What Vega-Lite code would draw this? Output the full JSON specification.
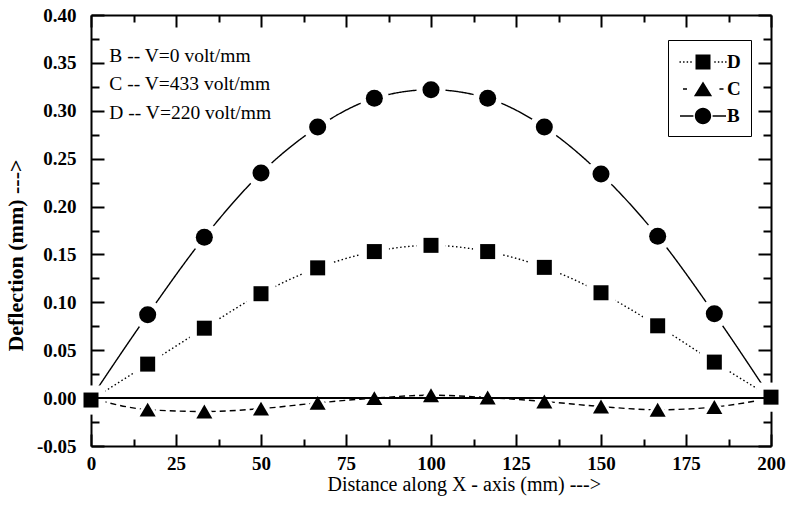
{
  "$schema": "https://vega.github.io/schema/vega-lite/v6.json",
  "width": 680,
  "height": 431,
  "autosize": "none",
  "padding": {"left": 91, "top": 15, "right": 16, "bottom": 63},
  "background": "white",
  "config": {
    "view": {"stroke": null},
    "font": "Liberation Serif",
    "axis": {
      "grid": false,
      "domainColor": "black",
      "domainWidth": 2,
      "tickColor": "black",
      "tickWidth": 2,
      "labelColor": "black",
      "titleColor": "black",
      "labelFont": "Liberation Serif",
      "titleFont": "Liberation Serif",
      "labelFontSize": 19,
      "labelFontWeight": "bold",
      "labelOverlap": false,
      "labelFlush": false
    }
  },
  "datasets": {
    "pts": [
      {"s": "D", "x": 0, "y": -0.002},
      {"s": "D", "x": 16.667, "y": 0.0355},
      {"s": "D", "x": 33.333, "y": 0.073},
      {"s": "D", "x": 50, "y": 0.109},
      {"s": "D", "x": 66.667, "y": 0.136},
      {"s": "D", "x": 83.333, "y": 0.153},
      {"s": "D", "x": 100, "y": 0.1595},
      {"s": "D", "x": 116.667, "y": 0.153},
      {"s": "D", "x": 133.333, "y": 0.1365},
      {"s": "D", "x": 150, "y": 0.11},
      {"s": "D", "x": 166.667, "y": 0.0755},
      {"s": "D", "x": 183.333, "y": 0.0376},
      {"s": "D", "x": 200, "y": 0.001},
      {"s": "C", "x": 0, "y": 0},
      {"s": "C", "x": 16.667, "y": -0.012},
      {"s": "C", "x": 33.333, "y": -0.014},
      {"s": "C", "x": 50, "y": -0.011},
      {"s": "C", "x": 66.667, "y": -0.005},
      {"s": "C", "x": 83.333, "y": 0.0},
      {"s": "C", "x": 100, "y": 0.003},
      {"s": "C", "x": 116.667, "y": 0.0006},
      {"s": "C", "x": 133.333, "y": -0.0035},
      {"s": "C", "x": 150, "y": -0.0088},
      {"s": "C", "x": 166.667, "y": -0.0122},
      {"s": "C", "x": 183.333, "y": -0.0093},
      {"s": "C", "x": 200, "y": 0.0},
      {"s": "B", "x": 0, "y": 0},
      {"s": "B", "x": 16.667, "y": 0.087},
      {"s": "B", "x": 33.333, "y": 0.168},
      {"s": "B", "x": 50, "y": 0.235},
      {"s": "B", "x": 66.667, "y": 0.283},
      {"s": "B", "x": 83.333, "y": 0.313},
      {"s": "B", "x": 100, "y": 0.322},
      {"s": "B", "x": 116.667, "y": 0.313},
      {"s": "B", "x": 133.333, "y": 0.283},
      {"s": "B", "x": 150, "y": 0.234},
      {"s": "B", "x": 166.667, "y": 0.169},
      {"s": "B", "x": 183.333, "y": 0.088},
      {"s": "B", "x": 200, "y": 0}
    ],
    "ann": [
      {"t": "B -- V=0 volt/mm", "x": 5.4, "y": 0.351},
      {"t": "C -- V=433 volt/mm", "x": 5.4, "y": 0.3213},
      {"t": "D -- V=220 volt/mm", "x": 5.4, "y": 0.2917}
    ]
  },
  "layer": [
    {
      "data": {"name": "pts"},
      "mark": {"type": "line", "interpolate": "monotone", "color": "black", "strokeWidth": 1.4},
      "encoding": {
        "x": {
          "field": "x", "type": "quantitative",
          "scale": {"domain": [0, 200], "nice": false, "zero": false},
          "axis": {
            "orient": "bottom",
            "values": [0, 12.5, 25, 37.5, 50, 62.5, 75, 87.5, 100, 112.5, 125, 137.5, 150, 162.5, 175, 187.5, 200],
            "labelExpr": "datum.value % 25 == 0 ? datum.label : ''",
            "tickSize": {"condition": {"test": "datum.value % 25 == 0", "value": -12}, "value": -7},
            "labelPadding": 20,
            "labelBaseline": "top",
            "title": "Distance along X - axis (mm) --->",
            "titleFontSize": 20,
            "titleFontWeight": "normal",
            "titleAlign": "left",
            "titleAnchor": "start",
            "titleBaseline": "alphabetic",
            "titleX": 236,
            "titleY": 44
          }
        },
        "y": {
          "field": "y", "type": "quantitative",
          "scale": {"domain": [-0.05, 0.4], "nice": false, "zero": false},
          "axis": {
            "orient": "left",
            "values": [-0.05, -0.025, 0, 0.025, 0.05, 0.075, 0.1, 0.125, 0.15, 0.175, 0.2, 0.225, 0.25, 0.275, 0.3, 0.325, 0.35, 0.375, 0.4],
            "labelExpr": "round(datum.value*40) % 2 == 0 ? replace(format(datum.value, '.2f'), '\u2212', '-') : ''",
            "tickSize": {"condition": {"test": "round(datum.value*40) % 2 == 0", "value": -13}, "value": -8},
            "labelPadding": 28,
            "labelBaseline": "middle",
            "title": "Deflection (mm) --->",
            "titleFontSize": 22,
            "titleFontWeight": "bold",
            "titleAngle": 270,
            "titleAlign": "center",
            "titleBaseline": "alphabetic",
            "titleX": -69,
            "titleY": 240
          }
        },
        "detail": {"field": "s"},
        "strokeDash": {
          "field": "s", "type": "nominal",
          "scale": {"domain": ["D", "C", "B"], "range": [[1.5, 2.5], [6, 4], [1, 0]]},
          "legend": null
        }
      }
    },
    {
      "data": {"name": "pts"},
      "transform": [{"filter": "datum.s == 'D' || (datum.x > 0 && datum.x < 200)"}],
      "mark": {"type": "point", "filled": true, "color": "white", "opacity": 1, "size": 850},
      "encoding": {
        "x": {"field": "x", "type": "quantitative", "axis": null},
        "y": {"field": "y", "type": "quantitative", "axis": null},
        "shape": {
          "field": "s", "type": "nominal",
          "scale": {"domain": ["D", "C", "B"], "range": ["square", "triangle-up", "circle"]},
          "legend": null
        }
      }
    },
    {
      "data": {"values": [{}]},
      "mark": {"type": "rule", "color": "black", "strokeWidth": 2},
      "encoding": {"y": {"datum": 0, "axis": null}}
    },
    {
      "data": {"name": "pts"},
      "transform": [{"filter": "datum.s == 'D' || (datum.x > 0 && datum.x < 200)"}],
      "mark": {"type": "point", "filled": true, "color": "black", "opacity": 1},
      "encoding": {
        "x": {"field": "x", "type": "quantitative", "axis": null},
        "y": {"field": "y", "type": "quantitative", "axis": null},
        "shape": {
          "field": "s", "type": "nominal",
          "scale": {"domain": ["D", "C", "B"], "range": ["square", "triangle-up", "circle"]},
          "legend": null
        },
        "size": {
          "field": "s", "type": "nominal",
          "scale": {"domain": ["D", "C", "B"], "range": [225, 290, 235]},
          "legend": null
        }
      }
    },
    {
      "data": {"name": "ann"},
      "mark": {"type": "text", "align": "left", "baseline": "alphabetic", "font": "Liberation Serif", "fontSize": 19.5, "color": "black"},
      "encoding": {
        "x": {"field": "x", "type": "quantitative", "axis": null},
        "y": {"field": "y", "type": "quantitative", "axis": null},
        "text": {"field": "t"}
      }
    },
    {
      "data": {"name": "pts"},
      "mark": {"type": "point", "opacity": 0},
      "encoding": {
        "x": {
          "field": "x", "type": "quantitative",
          "axis": {
            "orient": "top",
            "values": [0, 12.5, 25, 37.5, 50, 62.5, 75, 87.5, 100, 112.5, 125, 137.5, 150, 162.5, 175, 187.5, 200],
            "labels": false,
            "title": null,
            "tickSize": {"condition": {"test": "datum.value % 25 == 0", "value": -12}, "value": -7}
          }
        },
        "y": {
          "field": "y", "type": "quantitative",
          "axis": {
            "orient": "right",
            "values": [-0.05, -0.025, 0, 0.025, 0.05, 0.075, 0.1, 0.125, 0.15, 0.175, 0.2, 0.225, 0.25, 0.275, 0.3, 0.325, 0.35, 0.375, 0.4],
            "labels": false,
            "title": null,
            "tickSize": {"condition": {"test": "round(datum.value*40) % 2 == 0", "value": -13}, "value": -8}
          }
        }
      }
    },
    {
      "data": {"name": "pts"},
      "transform": [{"filter": "false"}],
      "mark": {"type": "point", "filled": true, "color": "black"},
      "encoding": {
        "shape": {
          "field": "s", "type": "nominal",
          "scale": {
            "domain": ["D", "C", "B"],
            "range": [
              "M-1.96,-0.06h0.12v0.12h-0.12Z M-1.66,-0.06h0.12v0.12h-0.12Z M-1.36,-0.06h0.12v0.12h-0.12Z M-1.06,-0.06h0.12v0.12h-0.12Z M0.94,-0.06h0.12v0.12h-0.12Z M1.24,-0.06h0.12v0.12h-0.12Z M1.54,-0.06h0.12v0.12h-0.12Z M1.84,-0.06h0.12v0.12h-0.12Z M-0.625,-0.625H0.625V0.625H-0.625Z",
              "M-1.67,-0.07H-1.33V0.07H-1.67Z M1.37,-0.07H1.71V0.07H1.37Z M0,-0.62L0.76,0.6L-0.76,0.6Z",
              "M-1.92,-0.06H-0.8V0.06H-1.92Z M0.8,-0.06H1.92V0.06H0.8Z M0.68,0A0.68,0.68,0,1,1,-0.68,0A0.68,0.68,0,1,1,0.68,0Z"
            ]
          },
          "legend": {
            "orient": "none",
            "legendX": 577,
            "legendY": 25,
            "title": null,
            "strokeColor": "black",
            "padding": 10,
            "rowPadding": 5,
            "symbolSize": 576,
            "symbolOffset": 13,
            "labelOffset": 12,
            "labelFont": "Liberation Serif",
            "labelFontSize": 19,
            "labelFontWeight": "bold",
            "labelColor": "black",
            "symbolStrokeColor": "black",
            "symbolFillColor": "black",
            "symbolStrokeWidth": 0,
            "symbolOpacity": 1
          }
        }
      }
    }
  ],
  "resolve": {
    "axis": {"x": "independent", "y": "independent"},
    "scale": {"shape": "independent", "size": "independent"}
  }
}
